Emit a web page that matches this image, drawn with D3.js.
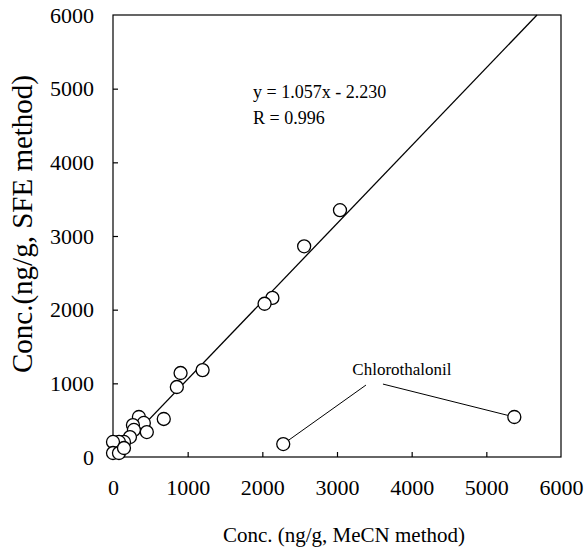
<!DOCTYPE html>
<html>
<head>
<meta charset="utf-8">
<script src="https://cdn.jsdelivr.net/npm/d3@7"></script>
<style>
  html, body { margin: 0; padding: 0; background: #fff; }
  svg { display: block; }
  text { font-family: "Liberation Serif", "Times New Roman", serif; fill: #000; }
</style>
</head>
<body>
<svg id="chart" width="585" height="558"></svg>
<script>
// ---- data ----
const mecnValues = [3040, 2560, 2135, 2030, 1200, 905, 855, 680, 347, 413, 267, 280, 453, 227, 147, 80, 0, 0, 80, 147];
const sfeValues  = [3350, 2860, 2160, 2080, 1180, 1140, 950, 516, 543, 462, 434, 367, 339, 271, 204, 204, 204, 54, 54, 122];
const chloroMecn = [2280, 5375];
const chloroSfe  = [176, 543];
const chloroLabel = "Chlorothalonil";
const chloroAnchor = [3870, 1180];
const xTicks = [0, 1000, 2000, 3000, 4000, 5000, 6000];
const yTicks = [0, 1000, 2000, 3000, 4000, 5000, 6000];
const slope = 1.057, intercept = -2.230, rValue = 0.996;
const xTitle = "Conc. (ng/g, MeCN method)";
const yTitle = "Conc.(ng/g, SFE method)";

// ---- layout ----
const svg = d3.select("#chart");
const L = 113, R = 561, T = 15, B = 457;
const x = d3.scaleLinear().domain([0, 6000]).range([L, R]);
const y = d3.scaleLinear().domain([0, 6000]).range([B, T]);

// frame
svg.append("rect").attr("x", L).attr("y", T).attr("width", R - L).attr("height", B - T)
  .attr("fill", "none").attr("stroke", "#000").attr("stroke-width", 1.2);

// axes (inward ticks)
const xAxis = d3.axisBottom(x).tickValues(xTicks).tickSize(-5).tickPadding(22).tickFormat(d3.format("d"));
const gx = svg.append("g").attr("transform", `translate(0,${B})`).call(xAxis);
const yAxis = d3.axisLeft(y).tickValues(yTicks).tickSize(-5).tickPadding(19).tickFormat(d3.format("d"));
const gy = svg.append("g").attr("transform", `translate(${L},0)`).call(yAxis);
[gx, gy].forEach(g => {
  g.select(".domain").remove();
  g.selectAll(".tick line").attr("stroke", "#000").attr("stroke-width", 1.2);
  g.selectAll(".tick text").style("font-family", '"Liberation Serif", serif').style("font-size", "22px").attr("fill", "#000");
});
gx.selectAll(".tick").filter(d => d === 0 || d === 6000).select("line").remove();
gy.selectAll(".tick").filter(d => d === 0 || d === 6000).select("line").remove();

// titles
svg.append("text").attr("x", 344).attr("y", 542).attr("text-anchor", "middle")
  .style("font-size", "21px").text(xTitle);
svg.append("text").attr("transform", "translate(32,224) rotate(-90)").attr("text-anchor", "middle")
  .style("font-size", "29px").text(yTitle);

// regression line
const xEnd = (6000 - intercept) / slope;
svg.append("line")
  .attr("x1", x(0)).attr("y1", y(intercept))
  .attr("x2", x(xEnd)).attr("y2", y(slope * xEnd + intercept))
  .attr("stroke", "#000").attr("stroke-width", 1.3);

// equation text
svg.append("text").attr("x", 253).attr("y", 98).style("font-size", "18px")
  .text(`y = ${slope.toFixed(3)}x - ${Math.abs(intercept).toFixed(3)}`);
svg.append("text").attr("x", 253).attr("y", 124).style("font-size", "18px")
  .text(`R = ${rValue.toFixed(3)}`);

// points
const pts = mecnValues.map((v, i) => [v, sfeValues[i]]);
const r = 6.5;
svg.append("g").selectAll("circle").data(pts).join("circle")
  .attr("cx", d => x(d[0])).attr("cy", d => y(d[1])).attr("r", r)
  .attr("fill", "#fff").attr("stroke", "#000").attr("stroke-width", 1.3);

// chlorothalonil annotation
const ax = x(chloroAnchor[0]), ay = y(chloroAnchor[1]);
svg.append("text").attr("x", ax).attr("y", ay + 5).attr("text-anchor", "middle")
  .style("font-size", "17px").text(chloroLabel);
const cpts = chloroMecn.map((v, i) => [v, chloroSfe[i]]);
const starts = [[ax - 36, ay + 15], [ax - 19, ay + 14]];
cpts.forEach((d, i) => {
  const px = x(d[0]), py = y(d[1]);
  const sx = starts[i][0], sy = starts[i][1];
  const dx = px - sx, dy = py - sy, len = Math.hypot(dx, dy);
  svg.append("line").attr("x1", sx).attr("y1", sy)
    .attr("x2", px - dx / len * r).attr("y2", py - dy / len * r)
    .attr("stroke", "#000").attr("stroke-width", 1);
});
svg.append("g").selectAll("circle").data(cpts).join("circle")
  .attr("cx", d => x(d[0])).attr("cy", d => y(d[1])).attr("r", r)
  .attr("fill", "#fff").attr("stroke", "#000").attr("stroke-width", 1.3);
</script>
</body>
</html>
